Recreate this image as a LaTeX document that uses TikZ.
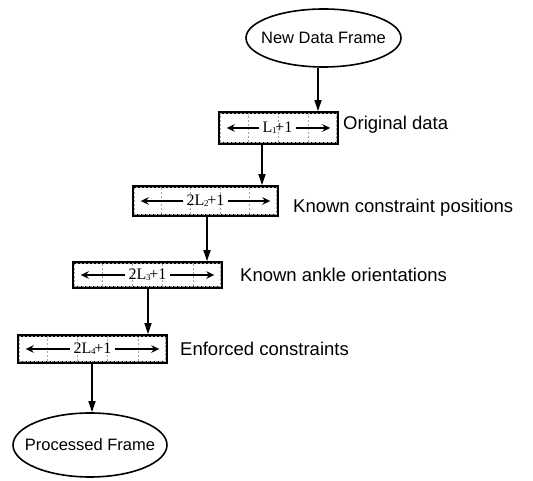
\documentclass[tikz,border=0pt]{standalone}
\usepackage{fontspec}
\setmainfont{Liberation Serif}
\setsansfont{Liberation Sans}
\usetikzlibrary{arrows.meta,calc,shapes.geometric}

% subscript index inside a window length label
\newcommand\idx[1]{\kern-0.3pt\raisebox{-1.2pt}{\fontsize{9}{9}\selectfont #1}\kern-1.2pt}

\begin{document}
\begin{tikzpicture}[x=1pt,y=1pt,
  frame/.style={draw,ellipse,line width=1.6pt,inner sep=0pt},
  frametext/.style={font=\sffamily\fontsize{16.5}{16.5}\selectfont,inner sep=0pt},
  win/.style={draw,rectangle,line width=2.6pt,inner sep=0pt},
  cell/.style={draw=black!35,line width=0.9pt,dash pattern=on 2.5pt off 1.5pt},
  lab/.style={anchor=base west,font=\sffamily\fontsize{18.5}{18.5}\selectfont,inner sep=0pt},
  flow/.style={line width=1.4pt,-{Triangle[length=11pt,width=7pt]}},
  span/.style={line width=1.4pt,-{Stealth[length=8pt,width=7.5pt]}},
  len/.style={font=\fontsize{16}{16}\selectfont,inner sep=0pt}
]
\useasboundingbox (0,0) rectangle (533,481);

% start and end of the pipeline
\node[frame,minimum width=155pt,minimum height=58pt] (top) at (323.5,443) {};
\node[frametext] (toptxt) at (top) {New Data Frame};
\node[frame,minimum width=154pt,minimum height=64pt] (bot) at (90,36) {};
\node[frametext] (bottxt) at (bot) {Processed Frame};

% sliding windows
\node[win,minimum width=119pt,minimum height=31pt] (b1) at (278.5,353) {};
\node[win,minimum width=145pt,minimum height=29pt] (b2) at (205.5,280) {};
\node[win,minimum width=149pt,minimum height=25pt] (b3) at (147.5,206) {};
\node[win,minimum width=149pt,minimum height=27pt] (b4) at (92.5,132) {};

% dashed frame cells inside each window
\foreach \b/\n in {b1/4,b2/5,b3/5,b4/5}{
  \draw[cell] ($(\b.south west)+(2.5,2.5)$) rectangle ($(\b.north east)+(-2.5,-2.5)$);
  \pgfmathtruncatemacro\last{\n-1}
  \foreach \i in {1,...,\last}{
    \draw[cell] ($(\b.south west)!\i/\n!(\b.south east)+(0,2.5)$)
             -- ($(\b.north west)!\i/\n!(\b.north east)+(0,-2.5)$);
  }
}

% window lengths
\node[len] (t1) at ($(b1)+(-1,0)$) {L\idx{1}+1};
\node[len] (t2) at ($(b2)+(0,0)$) {2L\idx{2}+1};
\node[len] (t3) at ($(b3)+(0,0)$) {2L\idx{3}+1};
\node[len] (t4) at ($(b4)+(0,0)$) {2L\idx{4}+1};
\foreach \t/\b in {t1/b1,t2/b2,t3/b3,t4/b4}{
  \draw[span] ($(\t.west)+(-3,0)$) -- ($(\b.west)+(9,0)$);
  \draw[span] ($(\t.east)+(3,0)$) -- ($(\b.east)+(-9,0)$);
}

% step descriptions
\node[lab] (l1) at (343,351) {Original data};
\node[lab] (l2) at (293,268) {Known constraint positions};
\node[lab] (l3) at (240,199) {Known ankle orientations};
\node[lab] (l4) at (180,125) {Enforced constraints};

% flow between stages
\coordinate (x0) at (318,0);
\coordinate (x1) at (262,0);
\coordinate (x2) at (207,0);
\coordinate (x3) at (148,0);
\coordinate (x4) at (92,0);
\draw[flow] (top.south -| x0) -- (b1.north -| x0);
\draw[flow] (b1.south -| x1) -- (b2.north -| x1);
\draw[flow] (b2.south -| x2) -- (b3.north -| x2);
\draw[flow] (b3.south -| x3) -- (b4.north -| x3);
\draw[flow] (b4.south -| x4) -- (bot.north -| x4);
\end{tikzpicture}
\end{document}
